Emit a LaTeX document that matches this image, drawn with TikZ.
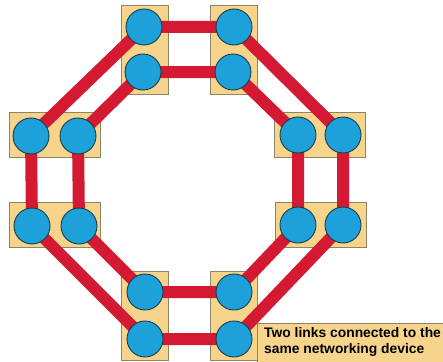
\documentclass[tikz,border=0pt]{standalone}
\usepackage{fontspec}
\newfontfamily\labelfont{Liberation Sans}
\pgfdeclarelayer{boxes}
\pgfdeclarelayer{links}
\pgfsetlayers{boxes,links,main}
\definecolor{boxfill}{HTML}{F6D48C}
\definecolor{boxedge}{HTML}{8C8466}
\definecolor{portfill}{HTML}{1EA0D9}
\definecolor{portedge}{HTML}{153E48}
\definecolor{linkred}{HTML}{D41A33}
\begin{document}
\begin{tikzpicture}[x=1pt,y=-1pt,
  device/.style={draw=boxedge,fill=boxfill,line width=0.8pt,inner sep=0pt},
  vdev/.style={device,minimum width=47pt,minimum height=89pt},
  hdev/.style={device,minimum width=91pt,minimum height=45pt},
  port/.style={circle,draw=portedge,fill=portfill,line width=0.9pt,minimum size=36pt,inner sep=0pt},
  link/.style={draw=linkred,line width=12pt}]
\useasboundingbox (0,0) rectangle (443,361);

% networking devices
\begin{pgfonlayer}{boxes}
\node[vdev] (dTL) at (144.5,49.5) {};
\node[vdev] (dTR) at (234,49.5) {};
\node[hdev] (dLU) at (54.5,135) {};
\node[hdev] (dLL) at (54.5,225) {};
\node[hdev] (dRU) at (320,135) {};
\node[hdev] (dRL) at (320.5,225) {};
\node[vdev] (dBL) at (145,316) {};
\node[vdev] (dBR) at (234,316) {};
\path[device] (257,323) rectangle (446,364);
\node[font=\labelfont\bfseries\fontsize{13.85}{16}\selectfont,align=left,
      anchor=north west,inner sep=0pt] (note) at (264,327.5)
      {Two links connected to the\\same networking device};
\end{pgfonlayer}

% ports
\node[port] (t1) at (144,27) {};
\node[port] (t2) at (143,72) {};
\node[port] (t3) at (234,27) {};
\node[port] (t4) at (233,72) {};
\node[port] (l1) at (31,136) {};
\node[port] (l2) at (78,136) {};
\node[port] (l3) at (32,226) {};
\node[port] (l4) at (79,226) {};
\node[port] (r1) at (298,135) {};
\node[port] (r2) at (343,135) {};
\node[port] (r3) at (298,225) {};
\node[port] (r4) at (343,225) {};
\node[port] (b1) at (145,292) {};
\node[port] (b2) at (145,339) {};
\node[port] (b3) at (234,292) {};
\node[port] (b4) at (234,339) {};

% outer and inner rings
\begin{pgfonlayer}{links}
\draw[link] (t1.center) -- (t3.center) -- (r2.center) -- (r4.center)
  -- (b4.center) -- (b2.center) -- (l3.center) -- (l1.center) -- cycle;
\draw[link] (t2.center) -- (t4.center) -- (r1.center) -- (r3.center)
  -- (b3.center) -- (b1.center) -- (l4.center) -- (l2.center) -- cycle;
\end{pgfonlayer}
\end{tikzpicture}
\end{document}
